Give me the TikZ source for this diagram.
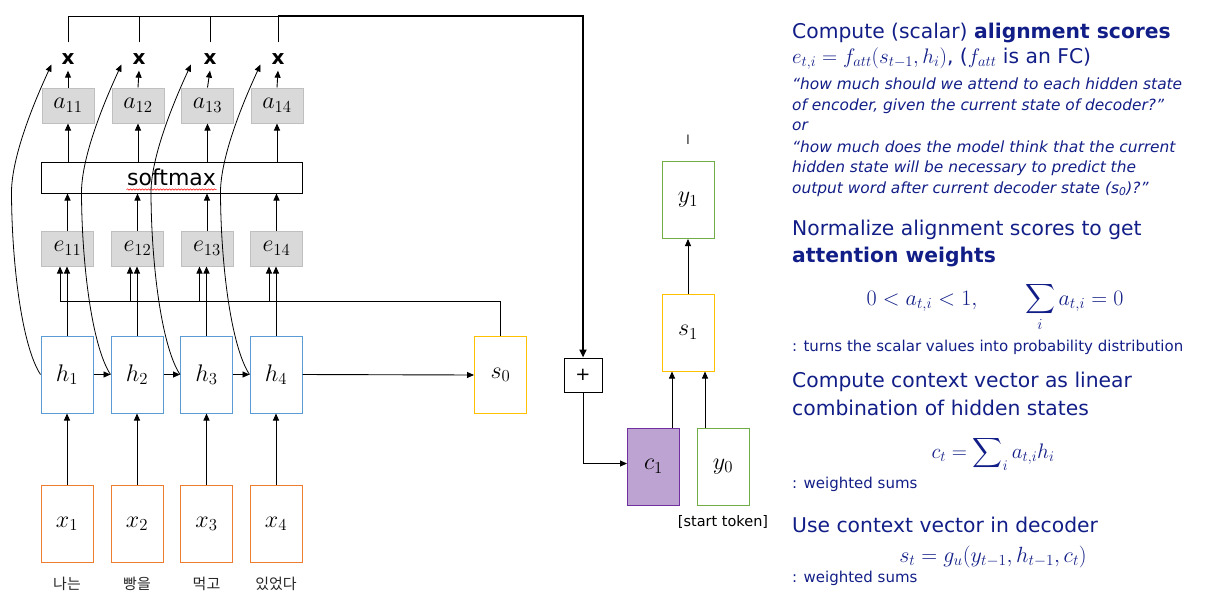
\RequirePackage{fix-cm}
\documentclass[tikz,border=0pt]{standalone}
\usepackage{exscale}
\usepackage{fontspec}
\setmainfont{DejaVu Sans}
\newfontfamily\kr{Noto Sans CJK KR}
\usetikzlibrary{arrows.meta,calc,decorations.pathmorphing}
\definecolor{navy}{RGB}{18,30,135}
\definecolor{orangeB}{RGB}{237,125,49}
\definecolor{blueB}{RGB}{91,155,213}
\definecolor{yellowB}{RGB}{255,192,0}
\definecolor{greenB}{RGB}{112,173,71}
\definecolor{purpleF}{RGB}{189,163,209}
\definecolor{purpleD}{RGB}{112,48,160}
\definecolor{grayF}{RGB}{217,217,217}
\definecolor{grayD}{RGB}{191,191,191}
\begin{document}
\begin{tikzpicture}[x=1pt,y=-1pt,
  arr/.style={-{Triangle[length=7pt,width=6pt]},line width=0.9pt},
  ln/.style={line width=0.9pt},
  cell/.style={draw,line width=1pt,inner sep=0pt,minimum width=52pt,minimum height=77pt,font=\fontsize{24}{28}\selectfont},
  xcell/.style={cell,draw=orangeB},
  hcell/.style={cell,draw=blueB},
  ycell/.style={cell,draw=yellowB},
  gcell/.style={cell,draw=greenB},
  score/.style={draw=grayD,fill=grayF,line width=1pt,inner sep=0pt,minimum width=52pt,minimum height=35pt,font=\fontsize{24}{28}\selectfont},
  mult/.style={font=\fontsize{20}{24}\selectfont\bfseries,inner xsep=0pt,inner ysep=6pt},
  kor/.style={font=\kr\fontsize{15}{18}\selectfont,inner sep=0pt,text=black!85},
  rt/.style={anchor=base west,inner sep=0pt,text=navy,font=\fontsize{20.3}{24}\selectfont},
  rs/.style={anchor=base west,inner sep=0pt,text=navy,font=\fontsize{15}{18}\selectfont},
  ri/.style={anchor=base west,inner sep=0pt,text=navy,font=\fontsize{15.4}{18}\selectfont\itshape},
  rm/.style={anchor=base,inner sep=0pt,text=navy,font=\fontsize{22}{26}\selectfont}
]
\useasboundingbox (0,0) rectangle (1209,600);

% encoder columns
\foreach \i/\cx/\mx in {1/67/68,2/137/139,3/206.5/210,4/276/278}{
  \node[xcell] (x\i) at (\cx,524) {$x_{\i}$};
  \node[hcell] (h\i) at (\cx,374.5) {$h_{\i}$};
  \node[score] (e\i) at (\cx+0.5,248.5) {$e_{1\i}$};
  \node[score] (a\i) at (\cx+1,105.5) {$a_{1\i}$};
  \node[mult] (m\i) at (\mx,59) {x};
}
\foreach \i/\cx/\w in {1/67/나는,2/137/빵을,3/206.5/먹고,4/276/있었다}{
  \node[kor] (k\i) at (\cx,584) {\w};
}

\node[draw,line width=1pt,minimum width=261pt,minimum height=31pt,inner sep=0pt,font=\fontsize{22}{26}\selectfont] (sm) at (171.5,177.5) {softmax};
\draw[red,decorate,decoration={snake,amplitude=0.7pt,segment length=3pt},line width=0.5pt] ($(sm.center)+(-45,12)$) -- ($(sm.center)+(45,12)$);

% decoder side
\node[ycell] (s0) at (500.5,375) {$s_0$};
\node[draw,line width=1pt,minimum width=38pt,minimum height=34pt,inner sep=0pt,font=\fontsize{18}{22}\selectfont] (plus) at (583,375) {+};
\node[cell,draw=purpleD,fill=purpleF] (c1) at (653.5,466.5) {$c_1$};
\node[gcell] (y0) at (723,466.5) {$y_0$};
\node[ycell] (s1) at (688,332.5) {$s_1$};
\node[gcell] (y1) at (688,200) {$y_1$};
\node[font=\fontsize{13}{15}\selectfont,inner sep=0pt,text=black!80] (cur) at (688,140) {I};
\node[font=\fontsize{14.5}{17}\selectfont,inner sep=0pt] (st) at (723,522) {[start token]};

% arrows in encoder
\coordinate (sl) at (60,301);
\draw[ln] (s0.north) |- (sl);
\foreach \i in {1,...,4}{
  \draw[arr] (x\i.north) -- (h\i.south);
  \draw[arr] (h\i.north) -- (h\i.north |- e\i.south);
  \coordinate (el\i) at ([xshift=-7.5pt]e\i.south);
  \draw[arr] (el\i |- sl) -- (el\i);
  \draw[arr] (e\i.north) -- (e\i.north |- sm.south);
  \draw[arr] (sm.north -| a\i) -- (a\i.south);
  \draw[arr] (a\i.north) -- (m\i.south);
  \coordinate (mt\i) at ([yshift=5pt]m\i.north);
}
\draw[arr] (h1.east) -- (h2.west);
\draw[arr] (h2.east) -- (h3.west);
\draw[arr] (h3.east) -- (h4.west);
\draw[arr] (h4.east) -- (s0.west);

% weighted outputs to +
\coordinate (tc) at (583,16);
\draw[line width=1pt] (mt1) |- (mt4 |- tc);
\foreach \i in {2,3,4}{ \draw[line width=1pt] (mt\i) -- (mt\i |- tc); }
\draw[-{Triangle[length=8pt,width=7pt]},line width=2pt] (mt4 |- tc) -- (tc) -- (plus.north);
\draw[arr] (plus.south) |- ([yshift=3pt]c1.west);

% decoder arrows
\coordinate (c1t) at ([xshift=18.5pt]c1.north);
\coordinate (y0t) at ([xshift=-18pt]y0.north);
\draw[arr] (c1t) -- (c1t |- s1.south);
\draw[arr] (y0t) -- (y0t |- s1.south);
\draw[arr] (s1.north) -- (y1.south);

% curved arrows from hidden states to multipliers
\foreach \i in {1,...,4}{
  \draw[arr,line width=0.8pt] (h\i.west) .. controls ($(h\i.west)+(-19,-29)$) and ($(h\i.west)+(-29,-114)$) .. ($(h\i.west)+(-29,-184)$)
     .. controls ($(h\i.west)+(-28,-224)$) and ($(h\i.west)+(-1,-284)$) .. ($(h\i.west)+(11,-310)$);
}

% right-hand text
\node[rt] (t1) at (792,38) {Compute (scalar) \textbf{alignment scores}};
\node[rt] (t2) at (792,63) {{\fontsize{21}{25}\selectfont$e_{t,i}=f_{att}(s_{t-1},h_i)$}, ({\fontsize{21}{25}\selectfont$f_{att}$} is an FC)};
\node[ri] (q1) at (792,89) {“how much should we attend to each hidden state};
\node[ri] (q2) at (792,110) {of encoder, given the current state of decoder?”};
\node[ri] (q3) at (792,130) {or};
\node[ri] (q4) at (792,152) {“how much does the model think that the current};
\node[ri] (q5) at (792,172) {hidden state will be necessary to predict the};
\node[ri] (q6) at (792,193) {output word after current decoder state (s\textsubscript{0})?”};
\node[rt] (t3) at (792,235) {Normalize alignment scores to get};
\node[rt] (t4) at (792,262) {\textbf{attention weights}};
\node[rm] (f1) at (995,305) {$\displaystyle 0<a_{t,i}<1,\qquad \sum_i a_{t,i}=0$};
\node[rs] (t5) at (792,351) {: turns the scalar values into probability distribution};
\node[rt] (t6) at (792,387) {Compute context vector as linear};
\node[rt] (t7) at (792,415) {combination of hidden states};
\node[rm,font=\fontsize{21}{25}\selectfont] (f2) at (993,458) {$\displaystyle c_t=\sum\nolimits_i a_{t,i}h_i$};
\node[rs] (t8) at (792,488) {: weighted sums};
\node[rt] (t9) at (792,532) {Use context vector in decoder};
\node[rm] (f3) at (993,562) {$s_t=g_u(y_{t-1},h_{t-1},c_t)$};
\node[rs] (t10) at (792,582) {: weighted sums};
\end{tikzpicture}
\end{document}
